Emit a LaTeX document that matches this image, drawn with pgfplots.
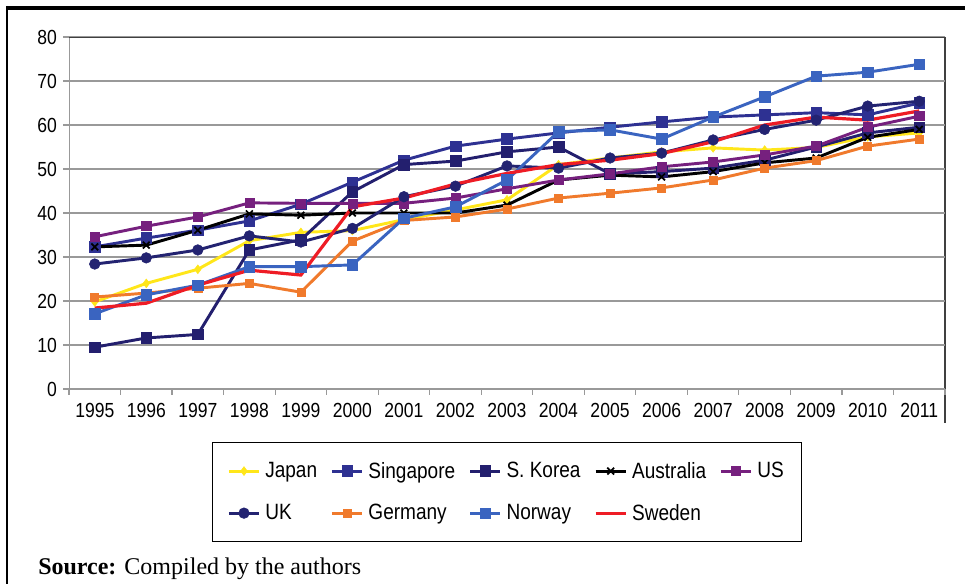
\documentclass[border=0pt]{standalone}
\usepackage{fontspec}
\setmainfont{Liberation Sans}[FakeStretch=0.86]
\newfontfamily\seriffont{Liberation Serif}
\usepackage{pgfplots}
\usepackage{pgfplotstable}
\pgfplotsset{compat=1.18}

\definecolor{cJapan}{HTML}{FFE61A}
\definecolor{cSing}{HTML}{2E3192}
\definecolor{cKorea}{HTML}{231F6E}
\definecolor{cUS}{HTML}{76207E}
\definecolor{cUK}{HTML}{232371}
\definecolor{cGer}{HTML}{F07A2C}
\definecolor{cNor}{HTML}{3A64C0}
\definecolor{cSwe}{HTML}{EE1C25}
\definecolor{gridgray}{HTML}{999999}

\pgfplotstableread{
year Japan Sing Korea Aus US UK Ger Nor Swe
1995 19.8 32.3 9.5 32.3 34.6 28.4 20.9 17.1 18.4
1996 24.0 34.3 11.6 32.7 37.0 29.8 21.8 21.4 19.5
1997 27.2 36.1 12.4 36.1 39.1 31.6 22.9 23.6 23.6
1998 33.7 38.2 31.6 39.8 42.3 34.8 24.0 27.8 27.0
1999 35.6 42.0 33.9 39.5 42.2 33.4 22.0 27.8 25.9
2000 36.0 47.0 44.8 40.0 42.2 36.5 33.6 28.2 41.4
2001 38.5 52.0 51.0 40.0 42.2 43.7 38.3 38.8 43.4
2002 40.7 55.2 51.8 40.0 43.4 46.1 39.1 41.4 46.6
2003 43.0 56.8 53.9 41.8 45.5 50.7 40.9 47.5 49.0
2004 51.0 58.2 55.0 47.5 47.5 50.2 43.4 58.5 51.0
2005 52.5 59.5 48.9 48.6 48.9 52.5 44.5 58.9 52.0
2006 53.9 60.7 49.4 48.2 50.5 53.6 45.7 56.8 53.5
2007 54.8 61.8 50.2 49.4 51.6 56.6 47.5 61.8 56.2
2008 54.3 62.3 52.0 51.4 53.2 59.0 50.2 66.4 60.0
2009 54.9 62.8 55.0 52.5 55.2 61.1 51.9 71.1 61.8
2010 57.3 62.3 58.2 57.2 59.5 64.3 55.2 72.0 61.1
2011 58.2 65.0 59.5 59.0 62.0 65.4 56.8 73.8 63.2
}\datatable

\begin{document}
\begin{tikzpicture}
\useasboundingbox (0,0) rectangle (723.75pt,438pt);
% outer frame
\draw[black, line width=3pt] (4.5pt,432pt) -- (723.75pt,432pt);
\draw[black, line width=1.5pt] (5.25pt,433.5pt) -- (5.25pt,0pt);
% right border of chart area
\draw[black!75, line width=1.2pt] (708.75pt,410.25pt) -- (708.75pt,120.75pt);
\begin{axis}[
  at={(51.75pt,146.25pt)}, anchor=south west,
  scale only axis, width=657pt, height=264pt,
  xmin=1994.5, xmax=2011.5, ymin=0, ymax=80,
  xtick={1995,...,2011}, ytick={0,10,...,80},
  minor xtick={1994.5,1995.5,...,2011.5},
  tick pos=left, tick align=outside,
  major x tick style={draw=none},
  major tick length=4.5pt, minor tick length=4.5pt,
  tick style={gridgray, line width=0.9pt},
  axis line style={draw=none},
  ymajorgrids, grid style={gridgray, line width=1pt},
  /pgf/number format/1000 sep={},
  /pgf/number format/assume math mode=true,
  ticklabel style={font=\fontsize{15.3}{18}\selectfont, black},
  xticklabel style={yshift=-3pt},
  yticklabel style={xshift=-1pt},
  every axis plot/.append style={line width=2.2pt},
  legend columns=5,
  legend cell align=left,
  legend image code/.code={\draw[mark repeat=2, mark phase=2] plot coordinates {(0cm,0cm) (0.4cm,0cm) (0.8cm,0cm)};},
  legend style={at={(0.1632,-0.1506)}, anchor=north west, draw=black, line width=1.1pt,
    font=\fontsize{16.6}{19}\selectfont, inner xsep=11pt, inner ysep=12.5pt,
    /tikz/every odd column/.append style={column sep=1.5pt},
    /tikz/every even column/.append style={column sep=8pt},
    row sep=14pt},
]
\addplot[cJapan, mark=diamond*, mark size=3.3pt, mark options={solid, line width=0.4pt}] table[x=year, y=Japan] {\datatable};
\addlegendentry{Japan}
\addplot[cSing, mark=square*, mark size=4pt, mark options={solid, line width=0.4pt}] table[x=year, y=Sing] {\datatable};
\addlegendentry{Singapore}
\addplot[cKorea, mark=square*, mark size=4pt, mark options={solid, line width=0.4pt}] table[x=year, y=Korea] {\datatable};
\addlegendentry{S. Korea}
\addplot[black, mark=x, mark size=3.6pt, mark options={solid, line width=1.3pt}] table[x=year, y=Aus] {\datatable};
\addlegendentry{Australia}
\addplot[cUS, mark=square*, mark size=3.4pt, mark options={solid, line width=0.4pt}] table[x=year, y=US] {\datatable};
\addlegendentry{US}
\addplot[cUK, mark=*, mark size=4pt, mark options={solid, line width=0.4pt}] table[x=year, y=UK] {\datatable};
\addlegendentry{UK}
\addplot[cGer, mark=square*, mark size=3pt, mark options={solid, line width=0.4pt}] table[x=year, y=Ger] {\datatable};
\addlegendentry{Germany}
\addplot[cNor, mark=square*, mark size=4pt, mark options={solid, line width=0.4pt}] table[x=year, y=Nor] {\datatable};
\addlegendentry{Norway}
\addplot[cSwe, no marks, line width=2.4pt] table[x=year, y=Swe] {\datatable};
\addlegendentry{Sweden}
\draw[gridgray, line width=1.1pt] (rel axis cs:0,0) -- (rel axis cs:0,1);
\draw[gridgray, line width=1.1pt] (rel axis cs:0,0) -- (rel axis cs:1,0);
\draw[black!75, line width=1.5pt] (rel axis cs:0,1) -- (rel axis cs:1,1);
\end{axis}
\node[anchor=base west, inner sep=0pt, font=\seriffont\fontsize{18}{20}\selectfont] at (28.5pt,6.75pt) {\textbf{Source:} Compiled by the authors};
\end{tikzpicture}
\end{document}
